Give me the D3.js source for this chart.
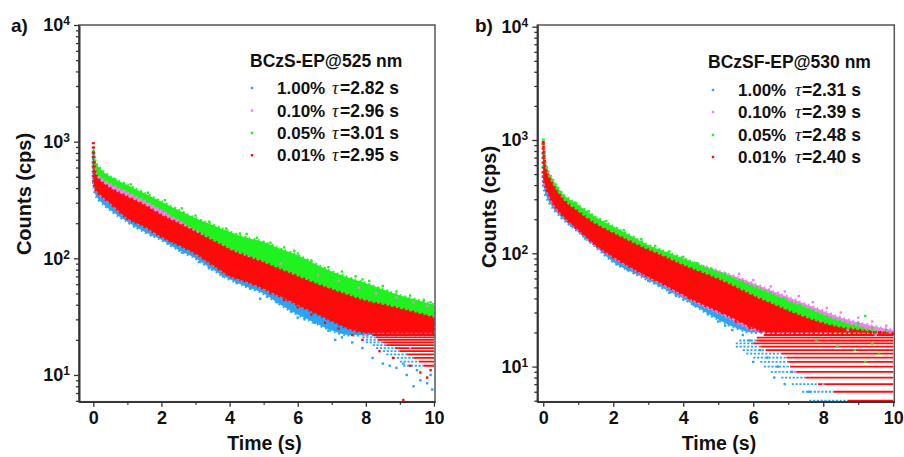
<!DOCTYPE html>
<html>
<head>
<meta charset="utf-8">
<script src="https://cdn.jsdelivr.net/npm/d3@7"></script>
<style>
  body { margin: 0; background: #fff; }
  text { font-family: "Liberation Sans", Arial, sans-serif; font-weight: bold; fill: #111; }
</style>
</head>
<body>
<div id="chart"></div>
<script>
// sample times (s) for the band edges
var times = [0, 0.05, 0.1, 0.25, 0.5, 1, 1.5, 2, 2.5, 3, 3.5, 4, 4.5, 5, 5.5, 6, 6.5, 7, 7.5, 8, 8.5, 9, 9.5, 10];

var seriesNames = ["1.00%", "0.10%", "0.05%", "0.01%"];
var tauA = ["2.82", "2.96", "3.01", "2.95"];
var tauB = ["2.31", "2.39", "2.48", "2.40"];
var decades = [10, 100, 1000, 10000];
var xTicks = [0, 2, 4, 6, 8, 10];
var xMinor = [1, 3, 5, 7, 9];

// panel a : BCzS-EP@525 nm  (upper / lower edge of each scatter band, cps)
var blueHiA  = [800, 520, 470, 420, 375, 315, 268, 222, 188, 158, 134, 114, 100, 88, 76, 66, 57, 50, 44, 39, 36, 33, 31, 29];
var blueLoA  = [450, 360, 335, 300, 259, 206, 169, 144, 118, 100, 80, 66, 57, 50, 40, 33, 28, 24, 22, 22, 22, 22, 22, 22];
var pinkHiA  = [900, 600, 540, 490, 440, 372, 316, 262, 220, 185, 156, 132, 115, 101, 88, 77, 67, 59, 52, 46, 42, 39, 36, 34];
var pinkLoA  = [460, 390, 370, 335, 295, 222, 188, 155, 131, 111, 89, 72, 64, 56, 48, 41, 35, 30, 26, 24, 23, 23, 23, 23];
var greenHiA = [850, 690, 640, 570, 500, 425, 361, 306, 259, 220, 193, 169, 150, 138, 120, 106, 90, 77, 68, 61, 54, 48, 44, 40];
var greenLoA = [600, 600, 540, 490, 440, 372, 316, 262, 215, 175, 143, 120, 106, 92, 80, 68, 59, 52, 45, 40, 36, 33, 30, 28];
var redHiA   = [990, 560, 505, 450, 400, 337, 286, 235, 200, 169, 142, 119, 104, 92, 80, 70, 61, 54, 48, 43, 40, 37, 34, 31];
var redLoA   = [470, 395, 375, 340, 296, 220, 187, 153, 130, 110, 88, 71, 63, 55, 47, 40, 34, 29, 25, 23, 23, 23, 23, 23];

// quantised low-count rows: [counts, t start, t end]
var blueRowsA = [[21, 7.9, 8.3], [20, 8.0, 8.35], [19, 8.0, 8.5], [18, 8.2, 8.6], [17, 8.3, 8.85], [16, 8.5, 9.0], [15, 8.6, 9.2], [14, 8.8, 9.4], [13, 9.0, 9.55], [12, 9.1, 9.7]];
var redRowsA = [[22, 8.2, 10], [21, 8.3, 10], [20, 8.35, 10], [19, 8.5, 10], [18, 8.6, 10], [17, 8.85, 10], [16, 9.0, 10], [15, 9.2, 10], [14, 9.4, 10], [13, 9.55, 10], [12, 9.7, 10]];

// loose points outside the bands: [t, counts]
var blueDotsA = [[1.2, 188], [1.7, 158], [2.2, 134], [2.6, 112], [3.1, 93], [3.4, 82], [3.8, 70], [4.2, 62], [4.6, 55], [4.9, 45], [5.1, 47], [5.4, 42], [5.8, 35], [6.0, 31], [6.2, 30], [6.5, 28], [6.9, 24], [7.1, 20], [7.3, 21], [7.6, 19], [7.9, 17], [8.2, 14], [8.5, 12.5], [8.7, 12], [8.9, 11.5], [9.1, 12.5], [9.2, 10], [9.4, 8], [9.5, 11], [9.6, 9], [9.8, 8.5], [9.9, 10], [9.95, 7.5]];
var pinkDotsA = [[5.5, 90], [6.6, 72], [7.2, 64], [7.8, 56], [8.0, 22], [8.3, 50], [8.9, 46], [9.3, 17], [9.4, 42], [9.8, 39]];
var greenDotsA = [[0.6, 480], [1.1, 430], [1.6, 365], [2.1, 315], [2.6, 268], [3.0, 232], [3.4, 206], [3.9, 180], [4.3, 163], [4.5, 162], [4.8, 150], [5.2, 136], [5.6, 124], [5.9, 116], [6.0, 110], [6.4, 96], [6.9, 84], [7.3, 77], [7.7, 70], [7.9, 66], [8.1, 64], [8.5, 58], [8.9, 52], [9.3, 48], [9.7, 44], [9.9, 42]];
var redDotsA = [[2.3, 140], [3.3, 98], [4.0, 72], [5.2, 50], [5.6, 44], [6.0, 38], [6.4, 33], [6.8, 28], [7.2, 25], [7.6, 22], [7.9, 20], [8.4, 16], [8.8, 14], [9.1, 6.1], [9.3, 12], [9.6, 10.5], [9.8, 9.5], [9.9, 11]];

// panel b : BCzSF-EP@530 nm
var blueHiB  = [930, 560, 480, 390, 300, 220, 170, 140, 118, 100, 86, 73, 63, 56, 48, 40, 34, 29, 25, 22, 21, 20, 20, 20];
var blueLoB  = [400, 340, 310, 258, 210, 155, 114, 84, 69, 58, 48, 40, 32, 26, 22, 20, 20, 20, 20, 20, 20, 20, 20, 20];
var pinkHiB  = [950, 620, 550, 445, 340, 255, 200, 165, 138, 115, 100, 88, 78, 70, 62, 54, 47, 41, 35.5, 31, 27, 24.5, 22.5, 21];
var pinkLoB  = [440, 390, 350, 280, 222, 160, 117, 92, 74, 61, 51, 42, 35, 30, 25, 21, 20, 20, 20, 20, 20, 20, 20, 20];
var greenHiB = [1030, 643, 570, 459, 350, 267, 208, 172, 143, 118, 103, 90, 78, 68, 59, 51, 44, 38, 33, 28.5, 25, 22.5, 20.5, 19];
var greenLoB = [520, 520, 460, 401, 305, 225, 170, 140, 117, 100, 84, 71, 60, 52, 45, 38, 33, 28, 24, 21, 20, 20, 20, 20];
var redHiB   = [980, 600, 520, 415, 316, 233, 180, 150, 126, 107, 92, 78, 68, 59, 50, 42, 36, 31, 27, 24, 22, 21, 20, 19.5];
var redLoB   = [450, 400, 360, 285, 225, 161, 118, 93, 75, 62, 52, 43, 36, 31, 26, 22, 20, 20, 20, 20, 20, 20, 20, 20];

var blueRowsB = [[17, 5.6, 6.1], [16, 5.5, 6.0], [15, 5.5, 6.2], [14, 5.7, 6.35], [13, 5.8, 6.8], [12, 6.0, 6.95], [11, 6.2, 7.0], [10, 6.3, 7.05], [9, 6.5, 7.2], [8, 6.8, 7.5], [7, 7.1, 7.85], [6, 7.4, 8.3], [5, 7.6, 8.7]];
var redRowsB = [[19, 6.3, 10], [18, 6.1, 10], [17, 6.1, 10], [16, 6.0, 10], [15, 6.2, 10], [14, 6.35, 10], [13, 6.8, 10], [12, 6.95, 10], [11, 7.0, 10], [10, 7.05, 10], [9, 7.2, 10], [8, 7.5, 10], [7, 7.85, 10], [6, 8.3, 10], [5, 8.7, 10]];

var blueDotsB = [[0.8, 175], [1.2, 135], [1.7, 103], [2.1, 80], [2.4, 72], [2.6, 67], [3.0, 57], [3.3, 52], [3.6, 45], [3.8, 42], [4.0, 39], [4.3, 35], [4.7, 29], [5.0, 25], [5.2, 23], [5.4, 21], [5.7, 19], [5.9, 17], [6.0, 11], [6.2, 14], [6.4, 12], [6.6, 8], [6.7, 10], [6.9, 7], [7.1, 9], [7.6, 6]];
var pinkDotsB = [[5.6, 66], [6.0, 58], [6.5, 51], [6.9, 46], [7.2, 9], [7.3, 42], [7.7, 37], [8.0, 7], [8.1, 33], [8.5, 30], [8.7, 21], [9.0, 27], [9.4, 25], [9.5, 19], [9.8, 23], [9.9, 20]];
var greenDotsB = [[0.9, 280], [1.3, 235], [1.8, 192], [2.3, 160], [2.8, 133], [3.2, 116], [3.6, 104], [4.0, 93], [4.4, 82], [4.8, 73], [5.2, 66], [5.7, 57], [6.1, 50], [6.5, 45], [6.9, 40], [7.3, 35], [7.7, 31], [7.8, 17], [8.1, 28], [8.4, 15], [8.9, 14], [9.0, 24], [9.2, 28], [9.2, 11], [9.4, 22], [9.4, 16], [9.6, 13], [9.8, 21]];
var redDotsB = [[2.0, 92], [3.1, 63], [4.2, 40], [4.6, 36], [5.1, 30], [5.5, 25], [5.9, 22], [6.2, 20.5]];

var colors = ["#2ba4f5", "#f27ff2", "#1ff21f", "#ff0a0a"];

var svg = d3.select("#chart")
  .append("svg")
    .attr("width", 904)
    .attr("height", 457);

var panels = [
  { id: "clipA", left: 79, right: 435, top: 25, bottom: 401.7,
    xDomain: [-0.42, 10.03], yDomain: [5.9, 10000],
    letter: "a)", letterX: 11, yTitleX: 31, yTitleY: 194, xTitleX: 264.5,
    title: "BCzS-EP@525 nm", titleX: 250, titleY: 66.5,
    markX: 252, textX: 277, tauX: 332, eqX: 340, rowY: [88, 110.5, 133, 155.3],
    taus: tauA,
    bands: [[blueLoA, blueHiA], [pinkLoA, pinkHiA], [greenLoA, greenHiA], [redLoA, redHiA]],
    rows: [blueRowsA, redRowsA],
    dots: [blueDotsA, pinkDotsA, greenDotsA, redDotsA] },
  { id: "clipB", left: 537.3, right: 894.3, top: 25, bottom: 401.7,
    xDomain: [-0.17, 10.03], yDomain: [4.9, 10350],
    letter: "b)", letterX: 475, yTitleX: 496, yTitleY: 207, xTitleX: 719,
    title: "BCzSF-EP@530 nm", titleX: 708, titleY: 68,
    markX: 713, textX: 738, tauX: 795, eqX: 802, rowY: [90, 112, 135, 157],
    taus: tauB,
    bands: [[blueLoB, blueHiB], [pinkLoB, pinkHiB], [greenLoB, greenHiB], [redLoB, redHiB]],
    rows: [blueRowsB, redRowsB],
    dots: [blueDotsB, pinkDotsB, greenDotsB, redDotsB] }
];

panels.forEach(function(p) {
  var x = d3.scaleLinear().domain(p.xDomain).range([p.left, p.right]);
  var y = d3.scaleLog().domain(p.yDomain).range([p.bottom, p.top]);

  svg.append("clipPath").attr("id", p.id)
    .append("rect")
      .attr("x", p.left).attr("y", p.top)
      .attr("width", p.right - p.left).attr("height", p.bottom - p.top);

  var plot = svg.append("g").attr("clip-path", "url(#" + p.id + ")");

  // dense scatter bands, drawn in legend order (red ends up on top)
  var area = d3.area()
    .curve(d3.curveMonotoneX)
    .x(function(d, i) { return x(times[i]); })
    .y0(function(d) { return y(d[0]); })
    .y1(function(d) { return y(d[1]); });

  p.bands.forEach(function(b, i) {
    plot.append("path")
      .datum(d3.zip(b[0], b[1]))
      .attr("fill", colors[i])
      .attr("stroke", colors[i])
      .attr("stroke-width", 3)
      .attr("stroke-dasharray", "2 2.7 1.5 3.3")
      .attr("d", area);
  });

  // integer-count rows at the tail
  plot.append("g")
    .selectAll("line")
    .data(p.rows[0])
    .join("line")
      .attr("x1", function(d) { return x(d[1]); })
      .attr("x2", function(d) { return x(d[2]); })
      .attr("y1", function(d) { return y(d[0]); })
      .attr("y2", function(d) { return y(d[0]); })
      .attr("stroke", colors[0])
      .attr("stroke-width", 1.8)
      .attr("stroke-dasharray", "2.2 1.6");

  plot.append("g")
    .selectAll("line")
    .data(p.rows[1])
    .join("line")
      .attr("x1", function(d) { return x(d[1]); })
      .attr("x2", function(d) { return x(d[2]); })
      .attr("y1", function(d) { return y(d[0]); })
      .attr("y2", function(d) { return y(d[0]); })
      .attr("stroke", colors[3])
      .attr("stroke-width", 1.8);

  // loose points
  p.dots.forEach(function(dots, i) {
    plot.append("g")
      .attr("fill", colors[i])
      .selectAll("rect")
      .data(dots)
      .join("rect")
        .attr("x", function(d) { return x(d[0]) - 1.2; })
        .attr("y", function(d) { return y(d[1]) - 1.2; })
        .attr("width", 2.4)
        .attr("height", 2.4);
  });

  // frame
  svg.append("rect")
    .attr("x", p.left).attr("y", p.top)
    .attr("width", p.right - p.left).attr("height", p.bottom - p.top)
    .attr("fill", "none")
    .attr("stroke", "#555")
    .attr("stroke-width", 1.5);

  // minor ticks
  var yMinor = [];
  [1, 10, 100, 1000].forEach(function(e) {
    for (var k = 2; k <= 9; k++) {
      var v = k * e;
      if (v >= p.yDomain[0] && v <= p.yDomain[1]) yMinor.push(v);
    }
  });

  var styleAxis = function(g) {
    g.attr("font-size", 18).attr("font-family", null);
    g.select(".domain").attr("stroke", "#333").attr("stroke-width", 1.6);
    g.selectAll(".tick line").attr("stroke", "#333").attr("stroke-width", 1.3);
  };

  svg.append("g")
    .attr("transform", "translate(" + p.left + ",0)")
    .call(d3.axisLeft(y).tickValues(yMinor).tickSize(3).tickFormat("").tickSizeOuter(0))
    .call(styleAxis);

  svg.append("g")
    .attr("transform", "translate(0," + p.bottom + ")")
    .call(d3.axisBottom(x).tickValues(xMinor).tickSize(3).tickFormat("").tickSizeOuter(0))
    .call(styleAxis);

  svg.append("g")
    .attr("transform", "translate(" + p.left + ",0)")
    .call(d3.axisLeft(y).tickValues(decades).tickSize(5).tickPadding(4).tickSizeOuter(0))
    .call(styleAxis)
    .call(function(g) {
      g.selectAll(".tick text").each(function(d) {
        var t = d3.select(this).text("10");
        t.append("tspan")
          .attr("dy", "-0.5em")
          .attr("font-size", 12)
          .text(Math.round(Math.log10(d)));
      });
    });

  svg.append("g")
    .attr("transform", "translate(0," + p.bottom + ")")
    .call(d3.axisBottom(x).tickValues(xTicks).tickSize(5).tickPadding(5).tickFormat(d3.format("d")).tickSizeOuter(0))
    .call(styleAxis);

  // titles
  svg.append("text")
    .attr("x", p.letterX).attr("y", 32)
    .attr("font-size", 19)
    .text(p.letter);

  svg.append("text")
    .attr("transform", "translate(" + p.yTitleX + "," + p.yTitleY + ") rotate(-90)")
    .attr("text-anchor", "middle")
    .attr("font-size", 20)
    .text("Counts (cps)");

  svg.append("text")
    .attr("x", p.xTitleX).attr("y", 450)
    .attr("text-anchor", "middle")
    .attr("font-size", 19.5)
    .text("Time (s)");

  // legend
  svg.append("text")
    .attr("x", p.titleX).attr("y", p.titleY)
    .attr("font-size", 17.5)
    .text(p.title);

  seriesNames.forEach(function(name, i) {
    var cy = p.rowY[i];
    svg.append("rect")
      .attr("x", p.markX - 1.2).attr("y", cy - 1.2)
      .attr("width", 2.4).attr("height", 2.4)
      .attr("fill", colors[i]);
    svg.append("text")
      .attr("x", p.textX).attr("y", cy + 6)
      .attr("font-size", 17)
      .text(name);
    svg.append("text")
      .attr("x", p.tauX).attr("y", cy + 6)
      .attr("font-size", 18)
      .style("font-family", "'Liberation Serif', 'Times New Roman', serif")
      .style("font-style", "italic")
      .style("font-weight", "normal")
      .text("τ");
    svg.append("text")
      .attr("x", p.eqX).attr("y", cy + 6)
      .attr("font-size", 17.5)
      .text("=" + p.taus[i] + " s");
  });
});
</script>
</body>
</html>
